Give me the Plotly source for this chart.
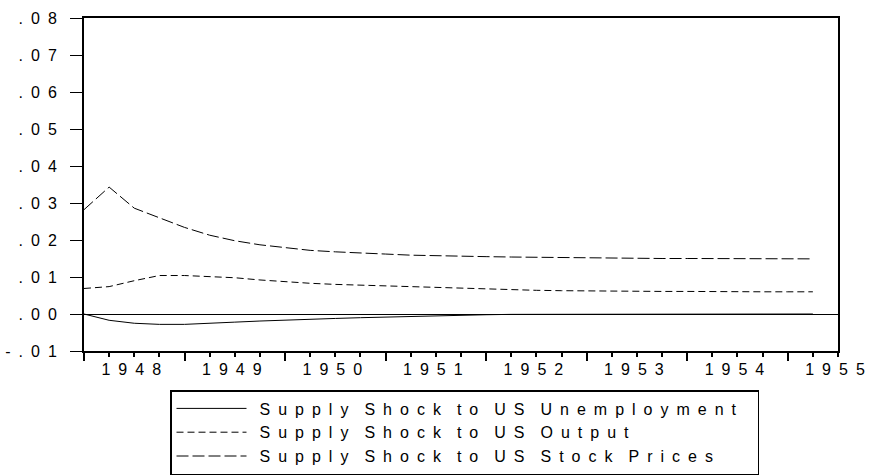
import plotly.graph_objects as go

# quarterly observations 1948Q1 .. 1955Q2
start_year = 1948
n_obs = 30
quarters = [start_year + i / 4 for i in range(n_obs)]

unemployment = [0.0, -0.0017, -0.0025, -0.0028, -0.0028, -0.0026, -0.0022, -0.0019,
                -0.0016, -0.0014, -0.0012, -0.0010, -0.0008, -0.0006, -0.0004, -0.0003,
                -0.0002, -0.0001, -0.0001, 0.0, 0.0, 0.0, 0.0, 0.0,
                0.0, 0.0, 0.0, 0.0, 0.0, 0.0]
output = [0.0069, 0.0074, 0.0090, 0.0104, 0.0104, 0.0101, 0.0098, 0.0092,
          0.0087, 0.0083, 0.0080, 0.0078, 0.0075, 0.0072, 0.0070, 0.0068,
          0.0067, 0.0065, 0.0064, 0.0063, 0.0062, 0.0062, 0.0061, 0.0061,
          0.0061, 0.0060, 0.0060, 0.0060, 0.0060, 0.0060]
stock_prices = [0.0282, 0.0343, 0.0286, 0.0259, 0.0234, 0.0213, 0.0198, 0.0187,
                0.0179, 0.0172, 0.0168, 0.0164, 0.0162, 0.0159, 0.0157, 0.0156,
                0.0155, 0.0154, 0.0153, 0.0152, 0.0152, 0.0151, 0.0151, 0.0150,
                0.0150, 0.0150, 0.0149, 0.0149, 0.0149, 0.0149]

series_names = ["Supply Shock to US Unemployment",
                "Supply Shock to US Output",
                "Supply Shock to US Stock Prices"]
year_labels = [1948, 1949, 1950, 1951, 1952, 1953, 1954, 1955]
y_ticks = [-0.01, 0.0, 0.01, 0.02, 0.03, 0.04, 0.05, 0.06, 0.07, 0.08]

FONT = "Liberation Sans, Arial, sans-serif"
EN = "\u2002"


def spaced(text):
    # EViews-style letter spaced text
    words = text.split(" ")
    return EN + (EN + EN).join(EN.join(w) for w in words) + EN + EN


def y_label(v):
    s = f"{v:.2f}".replace("0.", ".", 1)
    return EN.join(s)


fig = go.Figure()

dashes = ["solid", "7px,4px", "12px,4px"]
for name, ys, dash in zip(series_names, [unemployment, output, stock_prices], dashes):
    fig.add_trace(go.Scatter(
        x=quarters, y=ys, mode="lines", name=spaced(name),
        line=dict(color="black", width=1, dash=dash),
    ))

# invisible carrier so the year-label axis gets drawn
fig.add_trace(go.Scatter(
    x=quarters, y=unemployment, xaxis="x2", mode="markers",
    marker=dict(opacity=0), showlegend=False, hoverinfo="skip",
))

x_range = [start_year, year_labels[-1] + 0.5]

fig.update_layout(
    width=869, height=475,
    margin=dict(l=84, r=31, t=18, b=124, autoexpand=False),
    paper_bgcolor="white", plot_bgcolor="white",
    font=dict(family=FONT, size=16, color="black"),
    showlegend=True,
    legend=dict(
        x=(170 - 84) / 754, y=(351 - 390) / 333,
        xanchor="left", yanchor="top", traceorder="normal",
        bordercolor="black", borderwidth=1.5,
        itemwidth=70,
        font=dict(family=FONT, size=16, color="black"),
    ),
    xaxis=dict(
        range=x_range, automargin=False,
        tickmode="array", tickvals=year_labels, ticktext=["" for _ in year_labels],
        ticks="outside", ticklen=8, tickwidth=2, tickcolor="black",
        minor=dict(dtick=0.25, tick0=start_year, ticks="outside", ticklen=4,
                   tickwidth=1.5, tickcolor="black", showgrid=False),
        showline=True, linecolor="black", linewidth=2, mirror=True,
        showgrid=False, zeroline=False,
    ),
    xaxis2=dict(
        overlaying="x", anchor="y", side="bottom", range=x_range, automargin=False,
        tickmode="array", tickvals=[y + 0.47 for y in year_labels],
        ticktext=[EN.join(str(y)) for y in year_labels],
        ticks="", showline=False, showgrid=False, zeroline=False,
        ticklabelstandoff=7,
        tickfont=dict(family=FONT, size=16, color="black"),
    ),
    yaxis=dict(
        range=[y_ticks[0], y_ticks[-1]], automargin=False,
        tickmode="array", tickvals=y_ticks, ticktext=[y_label(v) for v in y_ticks],
        ticks="outside", ticklen=12, tickwidth=1, tickcolor="black",
        showline=True, linecolor="black", linewidth=2, mirror=True,
        showgrid=False,
        zeroline=True, zerolinecolor="black", zerolinewidth=1,
        ticklabelstandoff=10,
        tickfont=dict(family=FONT, size=16, color="black"),
    ),
)

# page body has a default margin; drop it so the figure fills the window
fig.write_html("out.html", config={"displayModeBar": False},
               post_script="document.body.style.margin='0';")
